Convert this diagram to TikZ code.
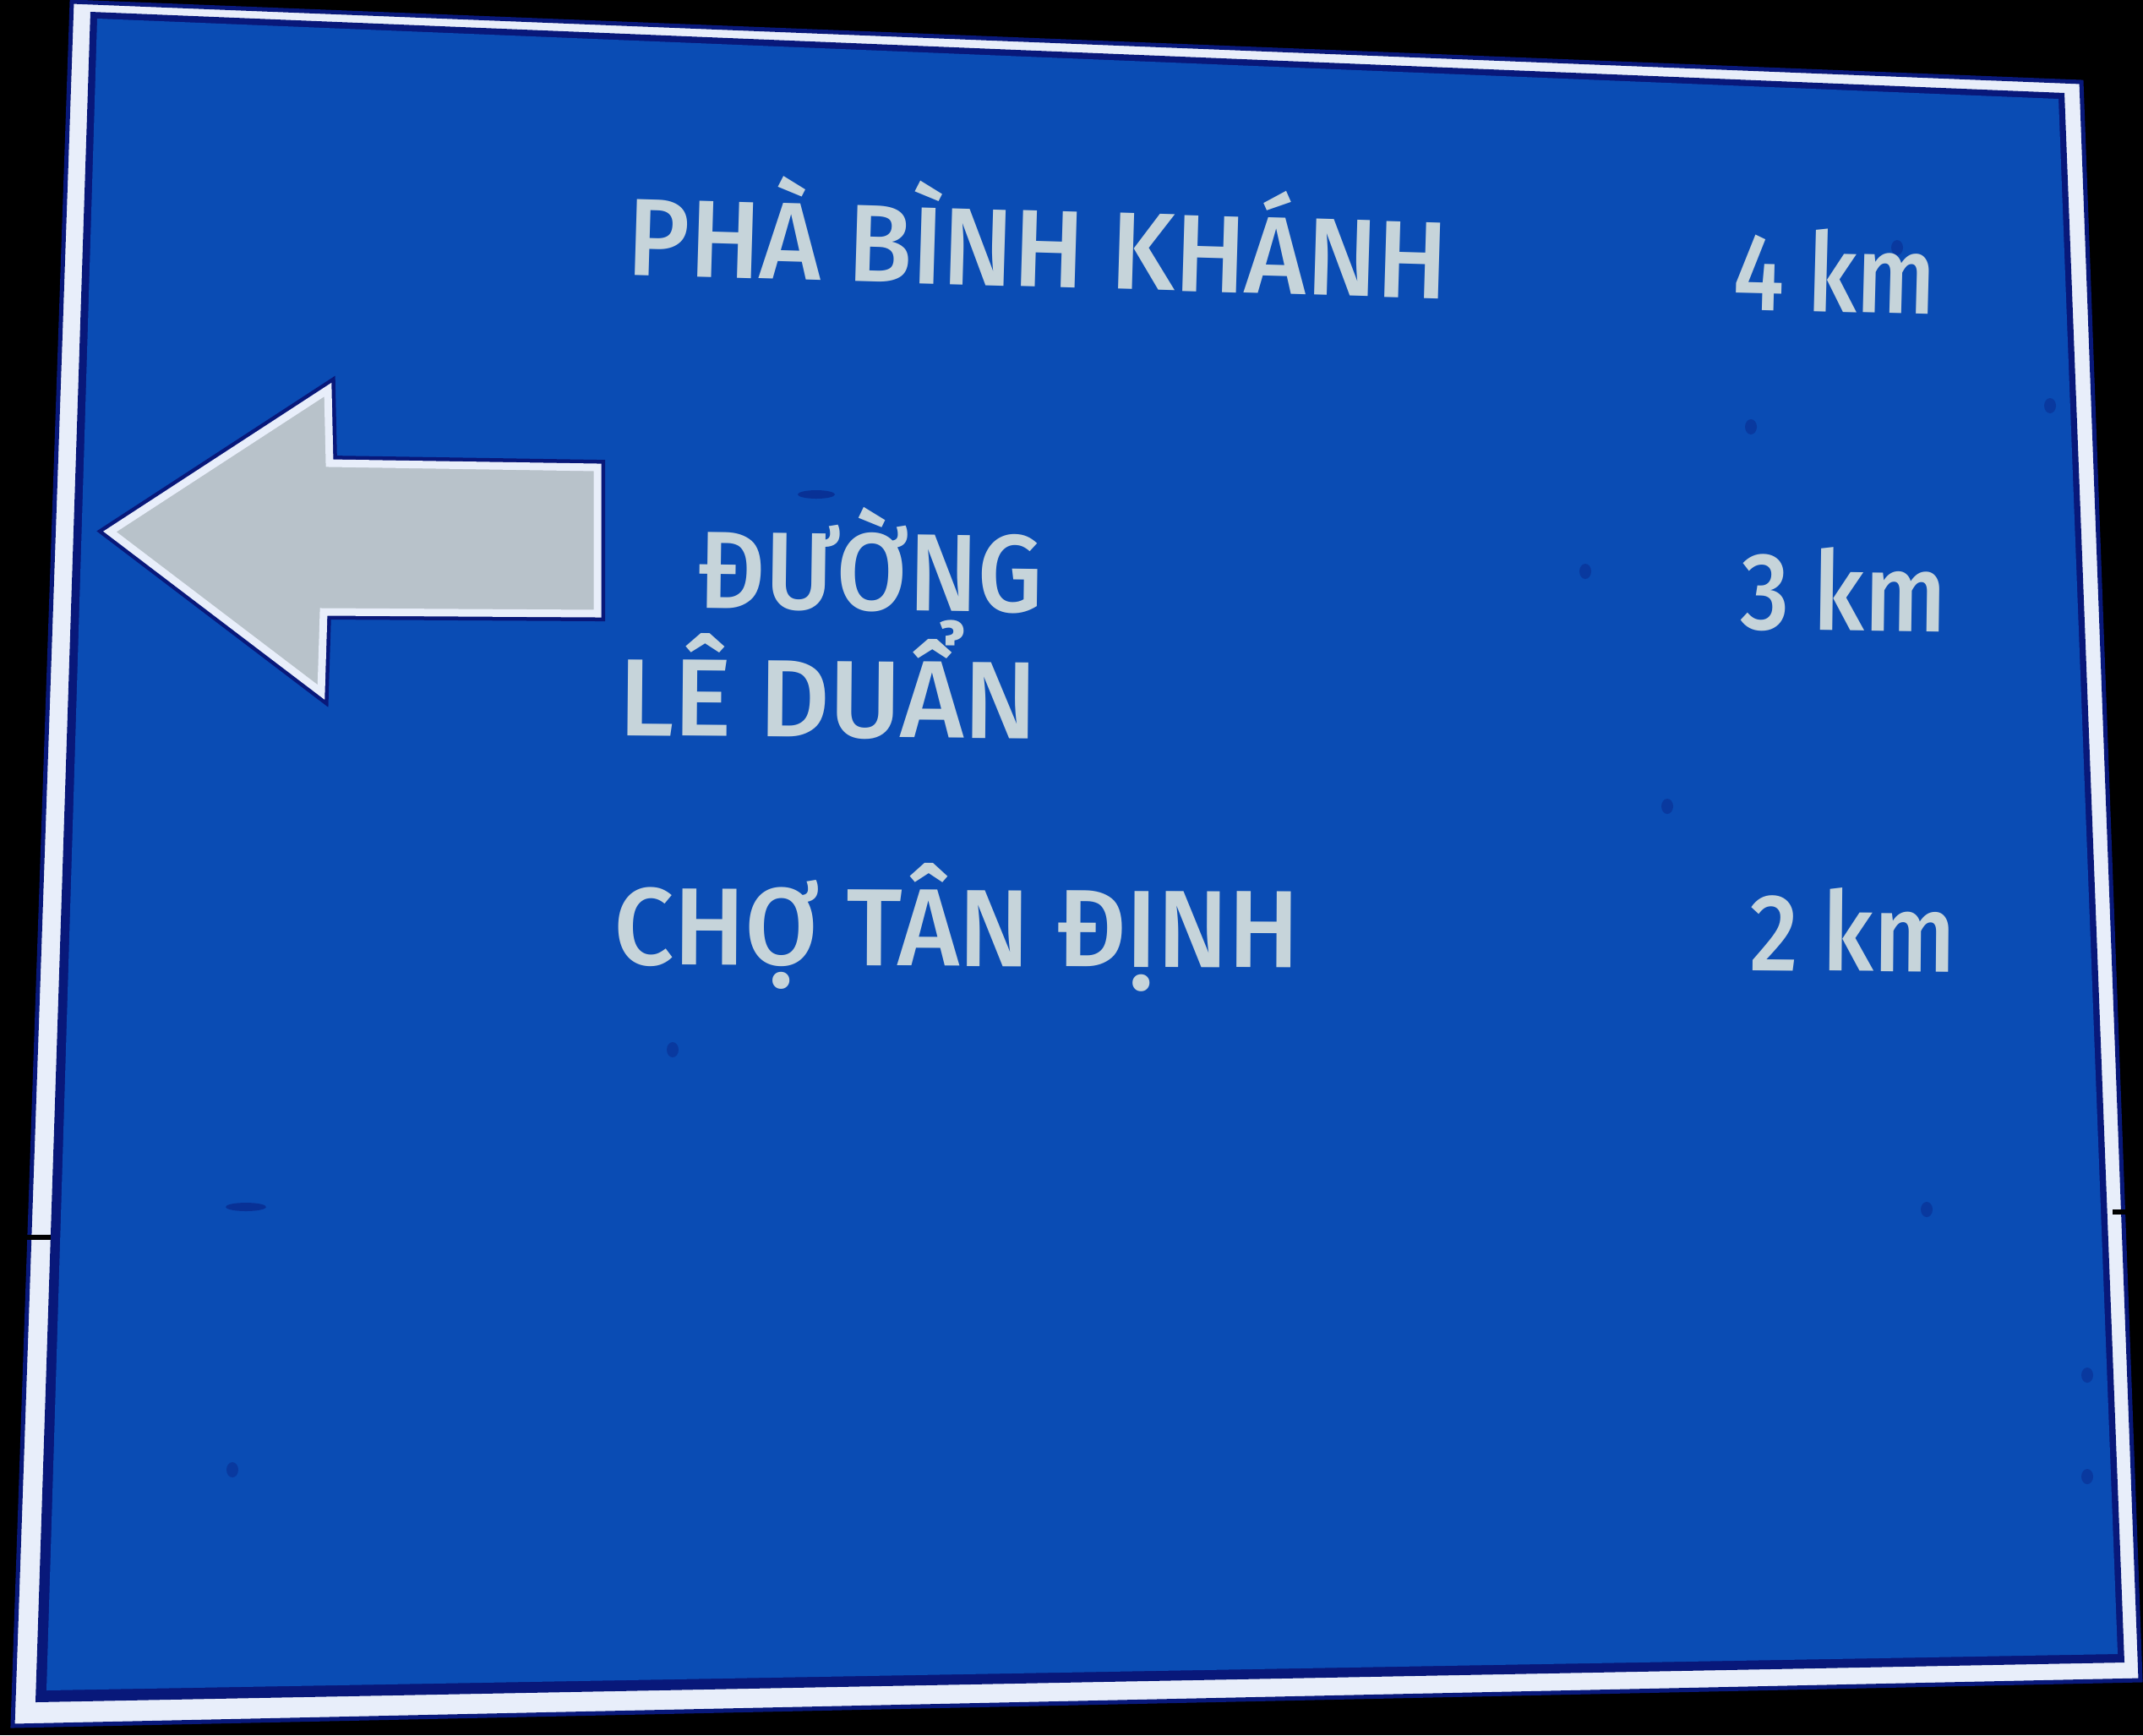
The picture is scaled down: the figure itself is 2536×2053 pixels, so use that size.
\documentclass[tikz,border=0pt]{standalone}
\usepackage{fontspec}
\setmainfont{Fira Sans}[BoldFont=* Medium]
\usepackage{graphicx}
\usepackage{xcolor}
\definecolor{signBlue}{RGB}{10,76,180}
\definecolor{signNavy}{RGB}{8,24,122}
\definecolor{signWhite}{RGB}{232,238,250}
\definecolor{textGray}{RGB}{198,212,218}
\definecolor{arrowGray}{RGB}{184,194,202}
\newcommand{\fitw}[2]{\resizebox{#1}{\height}{#2}}

\begin{document}
\begin{tikzpicture}[x=0.1mm, y=-0.1mm,
	place/.style={text=textGray, inner sep=0pt, anchor=base west, font=\fontsize{37}{40}\selectfont\bfseries}]
			\fill[black] (0,0) rectangle (2536,2053);
			\useasboundingbox (0,0) rectangle (2536,2053);

			% Sign panel: white rim, navy line, blue field
			\filldraw[fill=signWhite, draw=signNavy, line width=0.5mm] (85,2) -- (2463,97) -- (2533,1988) -- (15,2042) -- cycle;
			\fill[signNavy] (107,14) -- (2443,110) -- (2514,1967) -- (42,2014) -- cycle;
			\fill[signBlue] (115,22) -- (2436,117) -- (2506,1957) -- (55,2000) -- cycle;

			% Seam between the two panels
			\draw[black, line width=0.6mm] (8,1464) -- (60,1464);
			\draw[black, line width=0.6mm] (2500,1434) -- (2536,1434);

			% Rivets
			\foreach \x/\y in {2426/480,2072/505,2245/293,1876/676,1973/954,796/1242,2470/1627,2470/1747,275/1739,2280/1431}
			\fill[signNavy, opacity=0.35] (\x,\y) ellipse (0.7mm and 0.9mm);
			\fill[signNavy, opacity=0.5] (966,585) ellipse (2.2mm and 0.5mm);
			\fill[signNavy, opacity=0.5] (291,1428) ellipse (2.4mm and 0.5mm);

			% Arrow to the left
			\draw[signNavy, line width=1.8mm] (130,629) -- (388,461) -- (390,548) -- (707,553) -- (707,726) -- (383,724) -- (380,819) -- cycle;
			\filldraw[fill=arrowGray, draw=signWhite, line width=0.9mm] (130,629) -- (388,461) -- (390,548) -- (707,553) -- (707,726) -- (383,724) -- (380,819) -- cycle;

			% Places
			\node[place, rotate=-1.7] (pha) at (741,325) {\fitw{97.1mm}{PHÀ BÌNH KHÁNH}};
			\node[place, rotate=-0.8] (duong) at (825,719) {\fitw{40.8mm}{ĐƯỜNG}};
			\node[place, rotate=-0.5] (leduan) at (732,870) {\fitw{49.4mm}{LÊ DUẨN}};
			\node[place, rotate=-0.3] (cho) at (726,1141) {\fitw{81.1mm}{CHỢ TÂN ĐỊNH}};

			% Distances
			\node[place, rotate=-1.5] (km4) at (2050,366) {\fitw{23.9mm}{4 km}};
			\node[place, rotate=-0.8] (km3) at (2059,744) {\fitw{24.3mm}{3 km}};
			\node[place, rotate=-0.5] (km2) at (2070,1148) {\fitw{24.3mm}{2 km}};
		\end{tikzpicture}
\end{document}
